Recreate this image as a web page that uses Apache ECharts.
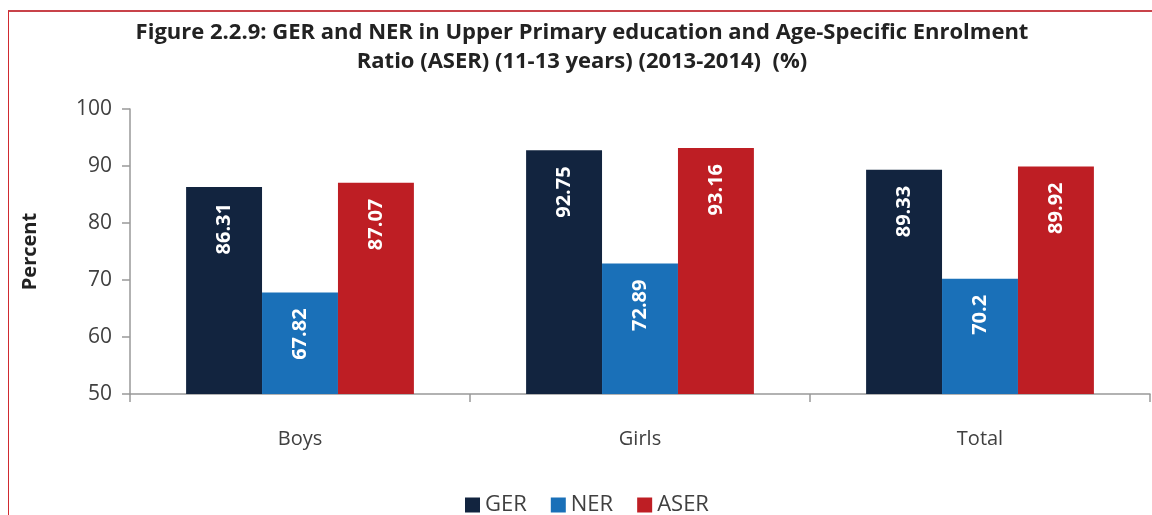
<!DOCTYPE html>
<html>
<head>
<meta charset="utf-8">
<script src="https://cdn.jsdelivr.net/npm/echarts@6/dist/echarts.min.js"></script>
<style>
  html, body { margin: 0; padding: 0; background: #fff; }
  .frame {
    position: absolute; left: 0; top: 0; width: 1152px; height: 515px;
    overflow: hidden;
  }
  .border {
    position: absolute; left: 8px; top: 10px; right: -5px; bottom: -5px;
    border-top: 2px solid #c8434a; border-left: 1px solid #d02a30;
  }
  #chart { position: absolute; left: 0; top: 0; width: 1152px; height: 515px; }
</style>
</head>
<body>
<div class="frame">
  <div class="border"></div>
  <div id="chart"></div>
</div>
<script>
var categories = ["Boys", "Girls", "Total"];
var gerData = [86.31, 92.75, 89.33];
var nerData = [67.82, 72.89, 70.2];
var aserData = [87.07, 93.16, 89.92];
var seriesNames = ["GER", "NER", "ASER"];
var seriesColors = ["#12243f", "#1a70b8", "#be1e24"];

var font = "'Open Sans', sans-serif";

var myChart = echarts.init(document.getElementById("chart"));

function makeSeries(name, data, color) {
  return {
    name: name,
    type: "bar",
    data: data,
    barGap: "0%",
    barCategoryGap: "33%",
    itemStyle: { color: color },
    label: {
      show: true,
      position: "insideTop",
      rotate: 90,
      align: "right",
      verticalAlign: "middle",
      distance: 16,
      color: "#fff",
      fontSize: 20,
      fontWeight: "bold",
      fontFamily: font
    }
  };
}

myChart.setOption({
  animation: false,
  title: {
    text: "Figure 2.2.9: GER and NER in Upper Primary education and Age-Specific Enrolment\nRatio (ASER) (11-13 years) (2013-2014)  (%)",
    left: 577,
    textAlign: "center",
    top: 13,
    textStyle: {
      fontFamily: font,
      fontSize: 22,
      fontWeight: "bold",
      color: "#222",
      lineHeight: 29
    }
  },
  legend: {
    data: seriesNames,
    top: 489,
    left: 460,
    itemWidth: 15,
    itemHeight: 15,
    itemGap: 24,
    icon: "rect",
    textStyle: { fontSize: 22, color: "#404040", fontFamily: font }
  },
  grid: {
    left: 130,
    right: 2,
    top: 109,
    bottom: 121
  },
  xAxis: {
    type: "category",
    data: categories,
    axisLine: { lineStyle: { color: "#999", width: 1.5 } },
    axisTick: { show: true, length: 8, lineStyle: { color: "#999", width: 1.5 } },
    axisLabel: { fontSize: 20, color: "#404040", margin: 35, fontFamily: font }
  },
  yAxis: {
    type: "value",
    min: 50,
    max: 100,
    interval: 10,
    name: "Percent",
    nameLocation: "middle",
    nameGap: 90,
    nameTextStyle: { fontSize: 20, fontWeight: "bold", color: "#222", fontFamily: font },
    axisLine: { show: true, lineStyle: { color: "#999", width: 1.5 } },
    axisTick: { show: true, length: 8, lineStyle: { color: "#999", width: 1.5 } },
    axisLabel: { fontSize: 21, color: "#404040", margin: 18, fontFamily: font },
    splitLine: { show: false }
  },
  series: [
    makeSeries(seriesNames[0], gerData, seriesColors[0]),
    makeSeries(seriesNames[1], nerData, seriesColors[1]),
    makeSeries(seriesNames[2], aserData, seriesColors[2])
  ]
});
</script>
</body>
</html>
